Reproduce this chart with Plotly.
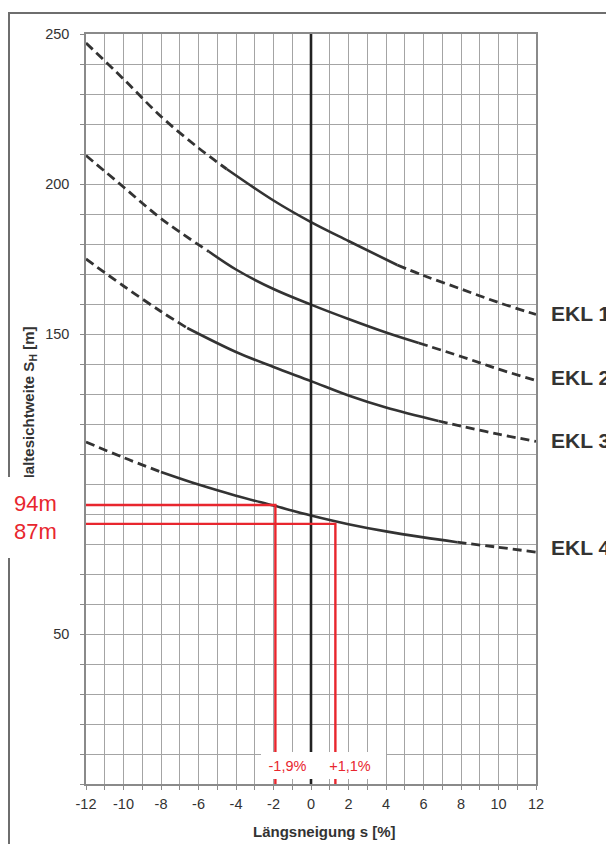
import plotly.graph_objects as go

# ---------------- data ----------------
EKL1_X = [-12, -10, -8, -6, -4.5, -2, 0, 2, 4.6, 6, 8, 10, 12]
EKL1_Y = [247, 235, 222.5, 212, 205, 194.5, 187.3, 181, 173, 169.5, 165, 160.5, 156.5]
EKL2_X = [-12, -10, -8, -5.45, -4, -2, 0, 2, 4, 5.75, 8, 10, 12]
EKL2_Y = [209.5, 199, 188.5, 177.5, 171.5, 165, 159.8, 155, 150.5, 147, 142.5, 138.3, 134.5]
EKL3_X = [-12, -10, -8, -6.6, -4, -2, 0, 2, 4, 6.8, 8, 10, 12]
EKL3_Y = [175, 166, 157.5, 152, 144, 139, 134.3, 129.5, 125.5, 121, 119.3, 116.6, 114.2]
EKL4_X = [-12, -10, -8, -6, -4, -2, 0, 2, 4, 6, 7.8, 10, 12]
EKL4_Y = [114, 108.8, 104, 99.8, 96.1, 92.8, 89.5, 86.6, 84.2, 82.2, 80.6, 78.9, 77.3]

CURVE_NAMES = ["EKL 1", "EKL 2", "EKL 3", "EKL 4"]
# index range (start, end) of the solid part in each curve's point list
SOLID_IDX = [(4, 8), (3, 9), (3, 9), (2, 10)]
LABEL_Y = [156.8, 135.5, 114.5, 78.8]

RED_X = [-1.9, 1.3]
RED_Y = [93, 86.7]
RED_VAL_LABELS = ["94m", "87m"]
RED_PCT_LABELS = ["-1,9%", "+1,1%"]

X_RANGE = [-12, 12]
Y_RANGE = [0, 250]
X_TICKS = [-12, -10, -8, -6, -4, -2, 0, 2, 4, 6, 8, 10, 12]
X_TICK_LABELS = ["-12", "-10", "-8", "-6", "-4", "-2", "0", "2", "4", "6", "8", "10", "12"]
Y_TICKS = [50, 100, 150, 200, 250]

# ---------------- styling / geometry ----------------
OFF = 8                      # page body margin
WIDTH, HEIGHT = 606, 836
ML, MR, MT, MB = 78, 78, 26, 60
PW = WIDTH - ML - MR
PH = HEIGHT - MT - MB
FONT = "Liberation Sans, Arial, sans-serif"
GRID = "#a4a4a4"
CURVE = "#333333"
RED = "#e8262e"
TXT = "#333333"


def px_x(p):
    return (p - OFF - ML) / PW


def px_y(p):
    return (MT + PH - (p - OFF)) / PH


fig = go.Figure()

curves = [(EKL1_X, EKL1_Y), (EKL2_X, EKL2_Y), (EKL3_X, EKL3_Y), (EKL4_X, EKL4_Y)]
for (cx, cy), (i0, i1), name in zip(curves, SOLID_IDX, CURVE_NAMES):
    fig.add_trace(go.Scatter(x=cx[:i0 + 1], y=cy[:i0 + 1], mode="lines",
                             line=dict(color=CURVE, width=2.8, dash="9px,5px", shape="spline"),
                             showlegend=False, hoverinfo="skip"))
    fig.add_trace(go.Scatter(x=cx[i1:], y=cy[i1:], mode="lines",
                             line=dict(color=CURVE, width=2.8, dash="9px,5px", shape="spline"),
                             showlegend=False, hoverinfo="skip"))
    fig.add_trace(go.Scatter(x=cx[i0:i1 + 1], y=cy[i0:i1 + 1], mode="lines", name=name,
                             line=dict(color=CURVE, width=2.6, shape="spline"),
                             showlegend=False))

# vertical zero line
fig.add_trace(go.Scatter(x=[0, 0], y=Y_RANGE, mode="lines",
                         line=dict(color="#222222", width=2.6),
                         showlegend=False, hoverinfo="skip"))

# red reading lines
for rx, ry in zip(RED_X, RED_Y):
    fig.add_trace(go.Scatter(x=[X_RANGE[0], rx, rx], y=[ry, ry, Y_RANGE[0]], mode="lines",
                             line=dict(color=RED, width=2.4),
                             showlegend=False, hoverinfo="skip"))

axis_common = dict(showline=True, linecolor="#8a8a8a", linewidth=1.5, mirror=True,
                   zeroline=False, showgrid=True, gridcolor=GRID, gridwidth=1.2,
                   ticks="outside", ticklen=4, tickcolor="#8a8a8a",
                   tickfont=dict(family=FONT, size=14.5, color="#333333"))

fig.update_xaxes(range=X_RANGE, tickmode="array", tickvals=X_TICKS, ticktext=X_TICK_LABELS,
                 minor=dict(tickmode="linear", tick0=-12, dtick=1, showgrid=True,
                            gridcolor=GRID, gridwidth=1.2,
                            ticks="outside", ticklen=4, tickcolor="#8a8a8a"),
                 ticklabelstandoff=2, **axis_common)
fig.update_yaxes(range=Y_RANGE, tickmode="array", tickvals=Y_TICKS,
                 minor=dict(tickmode="linear", tick0=0, dtick=10, showgrid=True,
                            gridcolor=GRID, gridwidth=1.2,
                            ticks="outside", ticklen=4, tickcolor="#8a8a8a"),
                 ticklabelstandoff=8, **axis_common)

# outer frame of the picture
fig.add_shape(type="rect", xref="paper", yref="paper",
              x0=px_x(9), x1=px_x(800), y0=px_y(1000), y1=px_y(13),
              line=dict(color="#6e6e6e", width=2), fillcolor="rgba(0,0,0,0)", layer="above")

ann = []
# y-axis title (as annotation so the label box can cover its end)
ann.append(dict(text="<b>Haltesichtweite S<sub>H</sub> [m]</b>", textangle=-90,
                xref="paper", yref="paper", x=px_x(29), y=px_y(406),
                xanchor="center", yanchor="middle", showarrow=False,
                font=dict(family=FONT, size=15, color=TXT)))
# red value labels on a white box
ann.append(dict(text="&nbsp;" + RED_VAL_LABELS[0] + "<br>&nbsp;" + RED_VAL_LABELS[1],
                xref="paper", yref="paper", x=px_x(8), y=px_y(477),
                xanchor="left", yanchor="top", width=76, height=81, align="left",
                valign="middle", bgcolor="white", borderwidth=0, borderpad=0,
                showarrow=False, font=dict(family=FONT, size=22, color=RED)))
# red percentage labels on white boxes
for lab, x0, w in zip(RED_PCT_LABELS, [261, 314], [53, 72]):
    ann.append(dict(text=lab, xref="paper", yref="paper", x=px_x(x0), y=px_y(752),
                    xanchor="left", yanchor="top", width=w, height=27, align="center",
                    valign="middle", bgcolor="white", borderwidth=0, borderpad=0,
                    showarrow=False, font=dict(family=FONT, size=14.5, color=RED)))
# curve labels
for name, ly in zip(CURVE_NAMES, LABEL_Y):
    ann.append(dict(text="<b>" + name + "</b>", xref="paper", yref="y", x=px_x(549), y=ly,
                    xanchor="left", yanchor="middle", showarrow=False,
                    font=dict(family=FONT, size=21, color=TXT)))
# x-axis title
ann.append(dict(text="<b>Längsneigung s [%]</b>", xref="paper", yref="paper",
                x=px_x(324), y=px_y(831), xanchor="center", yanchor="middle",
                showarrow=False, font=dict(family=FONT, size=15, color=TXT)))

fig.update_layout(width=WIDTH, height=HEIGHT,
                  margin=dict(l=ML, r=MR, t=MT, b=MB),
                  paper_bgcolor="white", plot_bgcolor="white",
                  annotations=ann, showlegend=False)

fig.write_html("out.html")
